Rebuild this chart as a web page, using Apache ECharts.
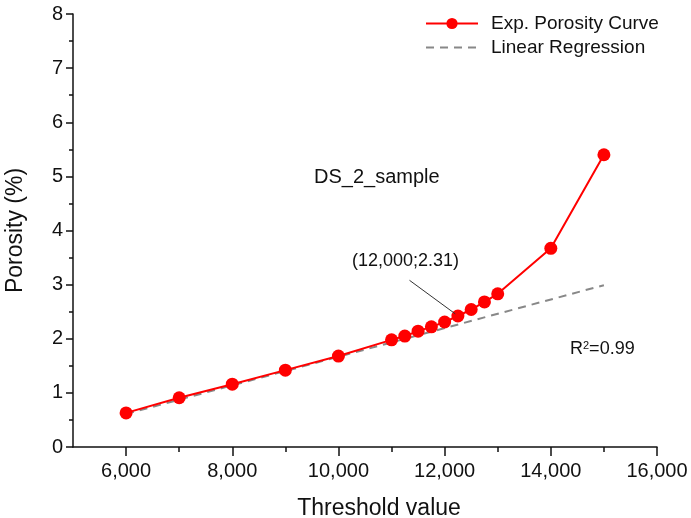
<!DOCTYPE html>
<html>
<head>
<meta charset="utf-8">
<script src="https://cdn.jsdelivr.net/npm/echarts@6/dist/echarts.min.js"></script>
<style>html,body{margin:0;padding:0;background:#fff}#c{width:691px;height:518px}</style>
</head>
<body>
<div id="c"></div>
<script>
// Data
var thresholds = [6000, 7000, 8000, 9000, 10000, 11000, 11250, 11500, 11750, 12000, 12250, 12500, 12750, 13000, 14000, 15000];
var porosity   = [0.63, 0.91, 1.16, 1.42, 1.68, 1.98, 2.05, 2.14, 2.22, 2.31, 2.42, 2.54, 2.68, 2.83, 3.67, 5.40];
var regressionX = [6000, 15000];
var regressionY = [0.61, 2.99];
var xMajorTicks = [6000, 8000, 10000, 12000, 14000, 16000];
var xMinorTicks = [7000, 9000, 11000, 13000, 15000];
var seriesNames = ['Exp. Porosity Curve', 'Linear Regression'];
var annotationText = '(12,000;2.31)';
var arrowFrom = [11338, 3.08];
var arrowTo = [12200, 2.46];

var FONT = 'Liberation Sans, Arial, sans-serif';
var chart = echarts.init(document.getElementById('c'), null, {renderer: 'canvas'});

function fmt(v) { return v.toLocaleString('en-US'); }

var option = {
  backgroundColor: '#fff',
  animation: false,
  textStyle: {fontFamily: FONT},
  grid: {left: 73, top: 14, right: 34, bottom: 71, containLabel: false, outerBoundsMode: 'none'},
  legend: {
    orient: 'vertical', left: 420, top: 9, itemWidth: 52, itemHeight: 14, itemGap: 5,
    textStyle: {fontFamily: FONT, fontSize: 19, color: '#111', padding: [0, 0, 0, 8]},
    data: [{name: seriesNames[0]}, {name: seriesNames[1], itemStyle: {opacity: 0}}]
  },
  xAxis: [{
    type: 'value', min: 5000, max: 16000,
    name: 'Threshold value', nameLocation: 'middle', nameGap: 50,
    nameTextStyle: {fontFamily: FONT, fontSize: 23, color: '#111', padding: [0, 0, 0, 28]},
    axisLine: {lineStyle: {color: '#111', width: 1.5}},
    axisTick: {customValues: xMajorTicks, length: 9, lineStyle: {color: '#111', width: 1.5}},
    axisLabel: {customValues: xMajorTicks, formatter: fmt, fontFamily: FONT, fontSize: 20, color: '#111', margin: 14},
    splitLine: {show: false}
  }, {
    type: 'value', min: 5000, max: 16000, position: 'bottom',
    axisLine: {show: false},
    axisTick: {customValues: xMinorTicks, length: 5, lineStyle: {color: '#111', width: 1.5}},
    axisLabel: {show: false},
    splitLine: {show: false}
  }],
  yAxis: {
    type: 'value', min: 0, max: 8, interval: 1,
    name: 'Porosity (%)', nameLocation: 'middle', nameGap: 46,
    nameTextStyle: {fontFamily: FONT, fontSize: 23, color: '#111'},
    axisLine: {show: true, lineStyle: {color: '#111', width: 1.5}},
    axisTick: {show: true, length: 7, lineStyle: {color: '#111', width: 1.5}},
    minorTick: {show: true, splitNumber: 2, length: 4, lineStyle: {color: '#111', width: 1.5}},
    axisLabel: {fontFamily: FONT, fontSize: 20, color: '#111', margin: 10},
    splitLine: {show: false}
  },
  series: [{
    name: seriesNames[0], type: 'line', xAxisIndex: 0,
    data: thresholds.map(function (x, i) { return [x, porosity[i]]; }),
    symbol: 'circle', symbolSize: 13,
    lineStyle: {color: '#ff0000', width: 2},
    itemStyle: {color: '#ff0000'},
    z: 2
  }, {
    name: seriesNames[1], type: 'line', xAxisIndex: 0,
    data: regressionX.map(function (x, i) { return [x, regressionY[i]]; }),
    symbol: 'none', showSymbol: false,
    lineStyle: {color: '#888888', width: 2, type: [8, 6]},
    itemStyle: {color: '#888888', opacity: 0},
    z: 1,
    markLine: {
      silent: true, symbol: ['none', 'none'],
      lineStyle: {color: '#333', width: 1, type: 'solid', opacity: 1},
      label: {show: false},
      data: [[{coord: arrowFrom}, {coord: arrowTo}]]
    }
  }],
  graphic: [
    {type: 'text', left: 314, top: 167, style: {text: 'DS_2_sample', font: '20px ' + FONT, fill: '#111'}},
    {type: 'text', left: 352, top: 252, style: {text: annotationText, font: '18px ' + FONT, fill: '#111'}},
    {type: 'text', left: 570, top: 340, style: {rich: {a: {fontSize: 18, fontFamily: FONT, fill: '#111'}, s: {fontSize: 11, fontFamily: FONT, fill: '#111', verticalAlign: 'top', padding: [0, 0, 8, 0]}}, text: '{a|R}{s|2}{a|=0.99}'}}
  ]
};
chart.setOption(option);
</script>
</body>
</html>
